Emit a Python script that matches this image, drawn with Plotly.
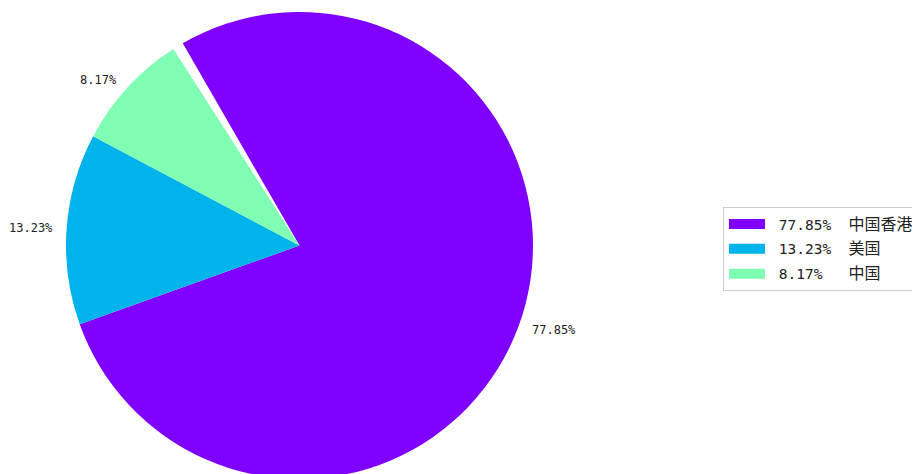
import math
import plotly.graph_objects as go

# ---- data ----
categories = ["中国香港", "美国", "中国"]
shares = [77.85, 13.23, 8.17]          # percent of total
colors = ["#8000ff", "#00b4eb", "#80ffb4"]

# the shares add up to less than 100 %, so part of the pie stays empty
gap = 100 - sum(shares)

# ---- geometry (figure pixels; the page shows the figure offset by 8 px) ----
W, H = 920, 474
R = 233.5
CX, CY = 291.5, 237.5
START = 120.0        # math angle where the first wedge starts (clockwise)
LABEL_DIST = 1.05

fig = go.Figure()
fig.add_trace(go.Pie(
    values=shares + [gap],
    labels=categories + ["_gap"],
    marker=dict(colors=colors + ["rgba(0,0,0,0)"], line=dict(width=0)),
    sort=False,
    direction="clockwise",
    rotation=90 - START,
    textinfo="none",
    hoverinfo="skip",
    showlegend=False,
    domain=dict(x=[(CX - R) / W, (CX + R) / W],
                y=[1 - (CY + R) / H, 1 - (CY - R) / H]),
))

# outside labels at the wedge mid-angles
cum = 0.0
for v in shares:
    a0 = START - 360 * cum / 100
    a1 = a0 - 360 * v / 100
    mid = math.radians((a0 + a1) / 2)
    cum += v
    px = CX + LABEL_DIST * R * math.cos(mid)
    py = CY - LABEL_DIST * R * math.sin(mid)
    fig.add_annotation(
        x=px / W, y=1 - py / H, xref="paper", yref="paper",
        text=f"{v:.2f}%", showarrow=False,
        xanchor="left" if math.cos(mid) > 0 else "right", yanchor="middle",
        font=dict(family="DejaVu Sans Mono, Noto Sans CJK SC", size=12, color="#222222"),
    )

# legend entries (wide colour patches)
for name, v, c in zip(categories, shares, colors):
    label = ("\u00a0" + f"{v:.2f}%".ljust(8)).replace(" ", "\u00a0") + \
        f'<span style="font-size:16px">{name}</span>'
    fig.add_trace(go.Scatter(
        x=[None], y=[None], mode="lines", name=label, legendgroup=name,
        line=dict(color=c, width=12), hoverinfo="skip",
    ))

fig.update_layout(
    width=W, height=H,
    margin=dict(l=0, r=0, t=0, b=0),
    paper_bgcolor="white", plot_bgcolor="white",
    xaxis=dict(visible=False), yaxis=dict(visible=False),
    showlegend=True,
    legend=dict(
        x=715 / W, y=1 - 199 / H, xanchor="left", yanchor="top",
        bordercolor="#cccccc", borderwidth=1, bgcolor="white",
        font=dict(family="DejaVu Sans Mono, Noto Sans CJK SC", size=14.5, color="#222222"),
        itemwidth=36, traceorder="grouped", tracegroupgap=3,
    ),
)

fig.write_html("out.html")
